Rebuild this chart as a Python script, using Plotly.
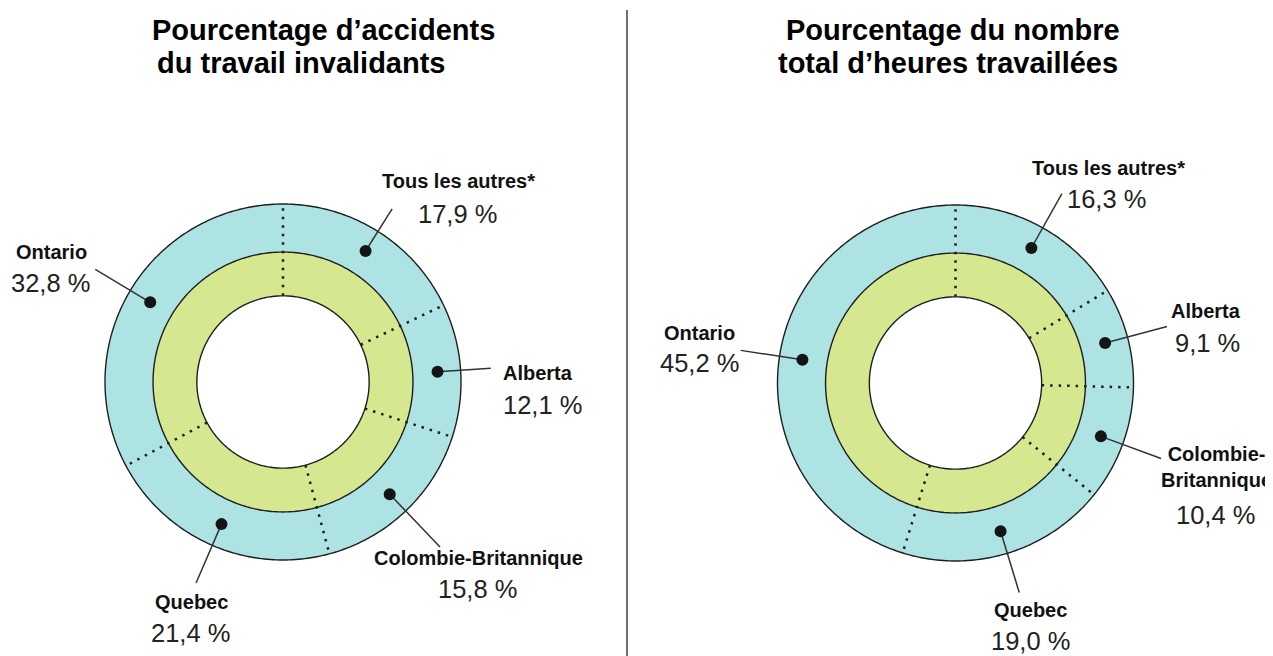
import numpy as np
import plotly.graph_objects as go

# ---------------- data ----------------
CATEGORIES = ["Tous les autres*", "Alberta", "Colombie-Britannique", "Quebec", "Ontario"]
ACCIDENTS_PCT = [17.9, 12.1, 15.8, 21.4, 32.8]
HEURES_PCT = [16.3, 9.1, 10.4, 19.0, 45.2]
TITLE_LEFT = ["Pourcentage d’accidents", "du travail invalidants"]
TITLE_RIGHT = ["Pourcentage du nombre", "total d’heures travaillées"]
NAMES_LEFT = ["Tous les autres*", "Alberta", "Colombie-Britannique", "Quebec", "Ontario"]
NAMES_RIGHT = ["Tous les autres*", "Alberta", "Colombie-<br>Britannique", "Quebec", "Ontario"]

# ---------------- layout / style ----------------
OFF = 8                      # page body margin
W, H = 1273 - OFF, 656 - OFF  # figure size
CYAN = "#ade3e3"
GREEN = "#d6e88f"
INK = "#1e1e1e"
R_HOLE, R_MID, R_DOT = 0.484, 0.73, 0.87
RMAX = 1.35                  # radial range (room for leader lines)
FONT = "Liberation Sans Narrow, Arial Narrow, Liberation Sans, Arial, sans-serif"
FONT_TITLE = "Liberation Sans, Arial, sans-serif"

# donut centres / outer radius in screen pixels
DONUTS = {
    "polar": dict(cx=283, cy=382, R=178),
    "polar2": dict(cx=955.5, cy=383, R=178),
}
# leader end radius (relative to outer radius) per slice
LEADER_END_LEFT = [1.15, 1.17, 1.28, 1.23, 1.23]
LEADER_END_RIGHT = [1.22, 1.23, 1.23, 1.23, 1.22]
# label positions (screen pixel centres): name, percent
LABELS_LEFT = [((458, 181), (457, 214)), ((538, 373), (542, 405)), ((478, 558), (477, 589)),
               ((191, 602), (190, 633)), ((51, 252), (50, 283))]
LABELS_RIGHT = [((1108, 168), (1106, 199)), ((1206, 311), (1207, 343)), ((1216, 467), (1215, 515)),
                ((1030, 610), (1030, 641)), ((699, 333), (700, 363))]


def px(x):
    return (x - OFF) / W


def py(y):
    return 1 - (y - OFF) / H


def fmt(v):
    return f"{v:.1f}".replace(".", ",") + " %"


fig = go.Figure()


def add_donut(values, sub, leader_end):
    n = len(values)
    widths = np.array(values) * 3.6
    cum = np.concatenate([[0], np.cumsum(widths)])
    mids = (cum[:-1] + cum[1:]) / 2
    fig.add_trace(go.Barpolar(r=[1 - R_MID] * n, base=[R_MID] * n, theta=mids, width=widths,
                              marker=dict(color=CYAN, line=dict(width=0)), subplot=sub,
                              hovertext=CATEGORIES, hoverinfo="text"))
    fig.add_trace(go.Barpolar(r=[R_MID - R_HOLE] * n, base=[R_HOLE] * n, theta=mids, width=widths,
                              marker=dict(color=GREEN, line=dict(width=0)), subplot=sub,
                              hoverinfo="skip"))
    # ring outlines
    circ = np.linspace(0, 360, 361)
    for rr in (R_HOLE, R_MID, 1.0):
        fig.add_trace(go.Scatterpolar(r=[rr] * len(circ), theta=circ, mode="lines",
                                      line=dict(color=INK, width=1.4), subplot=sub, hoverinfo="skip"))
    # dotted separators
    sr, st = [], []
    for b in cum[:-1]:
        sr += [R_HOLE, 1, None]
        st += [b, b, None]
    fig.add_trace(go.Scatterpolar(r=sr, theta=st, mode="lines",
                                  line=dict(color=INK, width=2.5, dash="2.5px,6px"),
                                  subplot=sub, hoverinfo="skip"))
    # leader lines
    lr, lt = [], []
    for m, e in zip(mids, leader_end):
        lr += [R_DOT, e, None]
        lt += [m, m, None]
    fig.add_trace(go.Scatterpolar(r=lr, theta=lt, mode="lines",
                                  line=dict(color="#333333", width=1.5), subplot=sub, hoverinfo="skip"))
    # dots
    fig.add_trace(go.Scatterpolar(r=[R_DOT] * n, theta=mids, mode="markers",
                                  marker=dict(color="#141414", size=12), subplot=sub,
                                  hovertext=CATEGORIES, hoverinfo="text"))


add_donut(ACCIDENTS_PCT, "polar", LEADER_END_LEFT)
add_donut(HEURES_PCT, "polar2", LEADER_END_RIGHT)


def polar_layout(d):
    rr = d["R"] * RMAX
    return dict(
        domain=dict(x=[px(d["cx"] - rr), px(d["cx"] + rr)],
                    y=[py(d["cy"] + rr), py(d["cy"] - rr)]),
        bgcolor="rgba(0,0,0,0)",
        bargap=0,
        radialaxis=dict(visible=False, range=[0, RMAX]),
        angularaxis=dict(rotation=90, direction="clockwise", showline=False,
                         showgrid=False, showticklabels=False, ticks=""),
    )


annotations = []


def add_labels(names, values, positions):
    for name, v, ((nx, ny), (vx, vy)) in zip(names, values, positions):
        annotations.append(dict(x=px(nx), y=py(ny), xref="paper", yref="paper", text=f"<b>{name}</b>",
                                showarrow=False, xanchor="center", yanchor="middle",
                                font=dict(family=FONT, size=20, color="#111111")))
        annotations.append(dict(x=px(vx), y=py(vy), xref="paper", yref="paper", text=fmt(v),
                                showarrow=False, xanchor="center", yanchor="middle",
                                font=dict(family=FONT, size=25.5, color="#222222")))


add_labels(NAMES_LEFT, ACCIDENTS_PCT, LABELS_LEFT)
add_labels(NAMES_RIGHT, HEURES_PCT, LABELS_RIGHT)

# titles
for txt, x, y, anchor in [(TITLE_LEFT[0], 150, 30, "left"), (TITLE_LEFT[1], 155, 63, "left"),
                          (TITLE_RIGHT[0], 953, 30, "center"), (TITLE_RIGHT[1], 948, 63, "center")]:
    annotations.append(dict(x=px(x), y=py(y), xref="paper", yref="paper", text=f"<b>{txt}</b>",
                            showarrow=False, xanchor=anchor, yanchor="middle",
                            font=dict(family=FONT_TITLE, size=29, color="#000000")))

fig.update_layout(
    width=W, height=H,
    margin=dict(l=0, r=0, t=0, b=0),
    paper_bgcolor="white",
    plot_bgcolor="white",
    showlegend=False,
    polar=polar_layout(DONUTS["polar"]),
    polar2=polar_layout(DONUTS["polar2"]),
    annotations=annotations,
    shapes=[dict(type="line", xref="paper", yref="paper", x0=px(627), x1=px(627), y0=0, y1=py(10),
                 line=dict(color="#707070", width=2))],
)

fig.write_html("out.html")
